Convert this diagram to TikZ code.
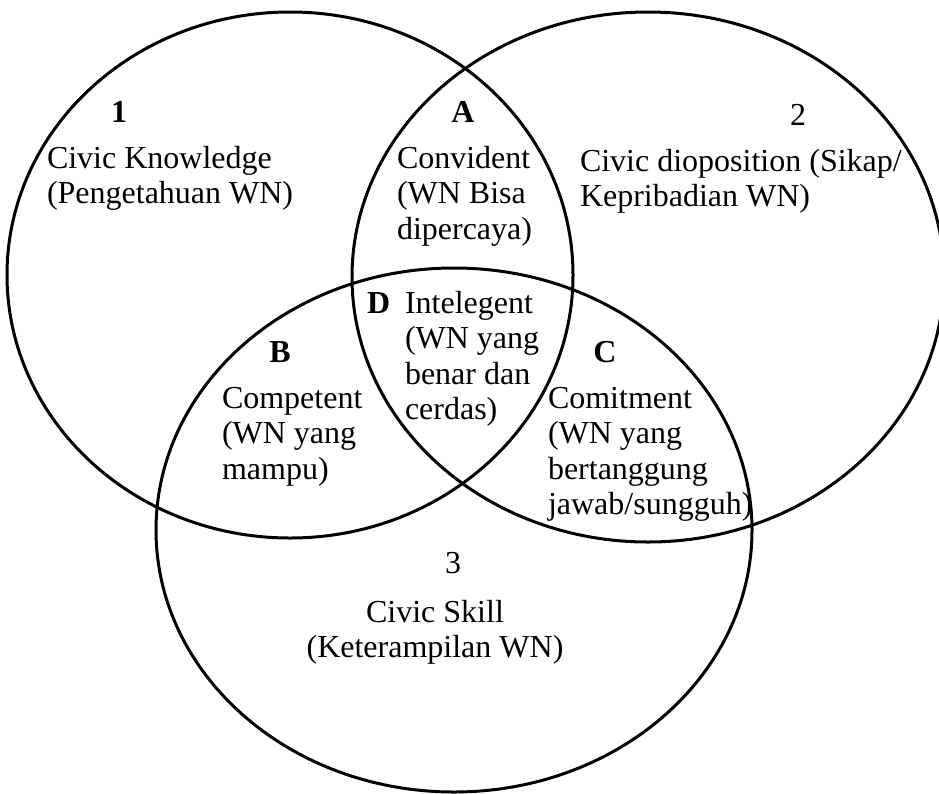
\documentclass[tikz,border=0pt]{standalone}
\usepackage{fontspec}
\setmainfont{Liberation Serif}
\begin{document}
\begin{tikzpicture}[x=1pt,y=-1pt,
  ring/.style={line width=3pt,black},
  lbl/.style={inner sep=0pt,outer sep=0pt,font=\fontsize{32}{35.5}\selectfont},
  % multi-line blocks are placed by the baseline of their last line
  blk/.style={lbl,anchor=base west,align=left},
  tag/.style={lbl,anchor=base,font=\fontsize{32}{35.5}\selectfont\bfseries},
  num/.style={lbl,anchor=base}]
\useasboundingbox (0,0) rectangle (939,793);

% the three sets
\coordinate (k1) at (290,275);
\coordinate (k2) at (648,277);
\coordinate (k3) at (454,530);
\draw[ring] (k1) ellipse [x radius=283, y radius=263];
\draw[ring] (k2) ellipse [x radius=296, y radius=265];
\draw[ring] (k3) ellipse [x radius=298, y radius=262];

% set 1
\node[tag] (n1) at (119,122) {1};
\node[blk] (t1) at (47,203.5) {Civic Knowledge\\(Pengetahuan WN)};

% set 2
\node[num] (n2) at (798,125) {2};
\node[blk] (t2) at (580,206.5) {Civic dioposition (Sikap/\\Kepribadian WN)};

% set 3
\node[num] (n3) at (453,573) {3};
\node[lbl,anchor=base,align=center] (t3) at (435,657.5) {Civic Skill\\(Keterampilan WN)};

% intersection 1 and 2
\node[tag] (nA) at (463,122) {A};
\node[blk] (tA) at (397,239) {Convident\\(WN Bisa\\dipercaya)};

% intersection 1 and 3
\node[tag] (nB) at (280,362) {B};
\node[blk] (tB) at (222,479) {Competent\\(WN yang\\mampu)};

% intersection 2 and 3
\node[tag] (nC) at (605,362) {C};
\node[blk] (tC) at (548,514.5) {Comitment\\(WN yang\\bertanggung\\jawab/sungguh)};

% centre
\node[tag,anchor=base west] (nD) at (367,313) {D};
\node[blk] (tD) at (405,419.5) {Intelegent\\(WN yang\\benar dan\\cerdas)};
\end{tikzpicture}
\end{document}
